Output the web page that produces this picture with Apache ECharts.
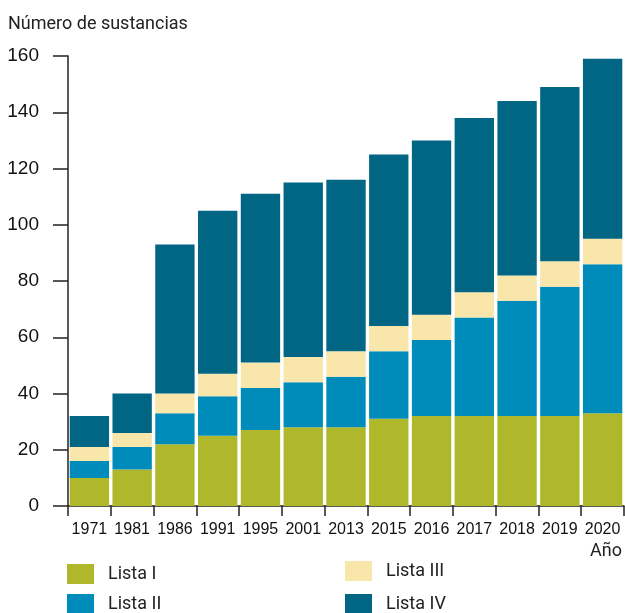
<!DOCTYPE html>
<html>
<head>
<meta charset="utf-8">
<script src="https://cdn.jsdelivr.net/npm/echarts@6/dist/echarts.min.js"></script>
<style>
  html, body { margin: 0; padding: 0; background: #fff; }
  #chart { width: 625px; height: 613px; }
</style>
</head>
<body>
<div id="chart"></div>
<script>
// años (categorías)
var years = ['1971','1981','1986','1991','1995','2001','2013','2015','2016','2017','2018','2019','2020'];
// número de sustancias por lista
var lista1 = [10, 13, 22, 25, 27, 28, 28, 31, 32, 32, 32, 32, 33];
var lista2 = [6, 8, 11, 14, 15, 16, 18, 24, 27, 35, 41, 46, 53];
var lista3 = [5, 5, 7, 8, 9, 9, 9, 9, 9, 9, 9, 9, 9];
var lista4 = [11, 14, 53, 58, 60, 62, 61, 61, 62, 62, 62, 62, 64];

var colors = ['#afb82b', '#008cbb', '#f8e6aa', '#006683'];
var narrow = '"Liberation Sans Narrow", "Liberation Sans", sans-serif';

var chart = echarts.init(document.getElementById('chart'));

function serie(name, data, i) {
  return {
    name: name,
    type: 'bar',
    stack: 'total',
    data: data,
    barCategoryGap: '8%',
    itemStyle: { color: colors[i] },
    emphasis: { disabled: true }
  };
}

// una leyenda por elemento para colocarlas como en el original
function leyenda(name, left, top) {
  return {
    data: [name],
    left: left, top: top,
    padding: 0,
    itemWidth: 27, itemHeight: 20,
    icon: 'rect',
    selectedMode: false,
    textStyle: { fontFamily: 'Roboto', fontSize: 18, color: '#222', padding: [0, 0, 0, 9] }
  };
}

chart.setOption({
  animation: false,
  title: {
    text: 'Número de sustancias',
    left: 3,
    top: 10,
    textStyle: { fontFamily: 'Roboto', fontWeight: 'normal', fontSize: 18, color: '#222' }
  },
  grid: { left: 68, right: 1, top: 56, bottom: 107, containLabel: false },
  legend: [
    leyenda('Lista I', 67, 564),
    leyenda('Lista II', 67, 594),
    leyenda('Lista III', 345, 561),
    leyenda('Lista IV', 345, 594)
  ],
  xAxis: {
    type: 'category',
    data: years,
    axisLine: { lineStyle: { color: '#222', width: 1.5 } },
    axisTick: { show: true, length: 10, lineStyle: { color: '#222', width: 1.5 } },
    axisLabel: { interval: 0, fontFamily: narrow, fontSize: 16, color: '#111', margin: 16 }
  },
  yAxis: {
    type: 'value',
    min: 0, max: 160, interval: 20,
    splitLine: { show: false },
    axisLine: { show: true, lineStyle: { color: '#222', width: 1.5 } },
    axisTick: { show: true, length: 15, lineStyle: { color: '#222', width: 1.5 } },
    axisLabel: { fontFamily: narrow, fontSize: 19, color: '#111', margin: 29 }
  },
  graphic: [
    {
      type: 'text',
      right: 3, top: 542,
      style: { text: 'Año', fontFamily: 'Roboto', fontSize: 18, fill: '#222' }
    }
  ],
  series: [
    serie('Lista I', lista1, 0),
    serie('Lista II', lista2, 1),
    serie('Lista III', lista3, 2),
    serie('Lista IV', lista4, 3)
  ]
});
</script>
</body>
</html>
